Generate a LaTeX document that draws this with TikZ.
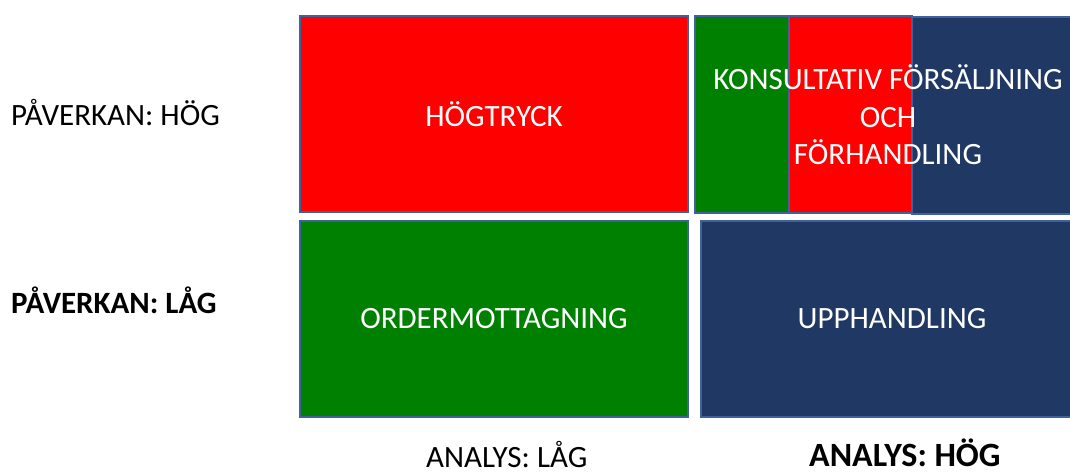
\documentclass[tikz,border=0pt]{standalone}
\usepackage{fontspec}
\setmainfont{Carlito}
\definecolor{bgreen}{HTML}{008000}
\definecolor{bred}{HTML}{FF0000}
\definecolor{bnavy}{HTML}{203864}
\definecolor{bline}{HTML}{41619C}
\begin{document}
\begin{tikzpicture}[x=1pt,y=-1pt,
  cell/.style={draw=bline,line width=1.2pt},
  celltext/.style={text=white,font=\fontsize{31}{37.5}\selectfont,align=center},
  axis/.style={text=black,font=\fontsize{31}{37}\selectfont,anchor=base west,inner sep=0pt},
  axisb/.style={text=black,font=\fontsize{31}{37}\selectfont\bfseries,anchor=base west,inner sep=0pt}]
\useasboundingbox (0,0) rectangle (1070,473);
% top left
\draw[cell,fill=bred] (300,16) rectangle (688,212);
\node[celltext] (hog) at (494,114) {HÖGTRYCK};
% top right composite
\draw[cell,fill=bnavy] (912,17) rectangle (1072,214);
\draw[cell,fill=bgreen] (695,16) rectangle (789,213);
\draw[cell,fill=bred] (789,16) rectangle (912,213);
\node[celltext] (kons) at (888,115) {KONSULTATIV FÖRSÄLJNING\\OCH\\FÖRHANDLING};
% bottom
\draw[cell,fill=bgreen] (300,221) rectangle (688,417);
\node[celltext] (order) at (494,319) {ORDERMOTTAGNING};
\draw[cell,fill=bnavy] (701,221) rectangle (1072,417);
\node[celltext] (upp) at (892,319) {UPPHANDLING};
% axis labels
\node[axis] (ph) at (11,126) {PÅVERKAN: HÖG};
\node[axisb] (pl) at (11,313) {PÅVERKAN: LÅG};
\node[axis] (al) at (426,467) {ANALYS: LÅG};
\node[axisb,font=\fontsize{34}{40}\selectfont\bfseries] (ah) at (809,466) {ANALYS: HÖG};
\end{tikzpicture}
\end{document}
